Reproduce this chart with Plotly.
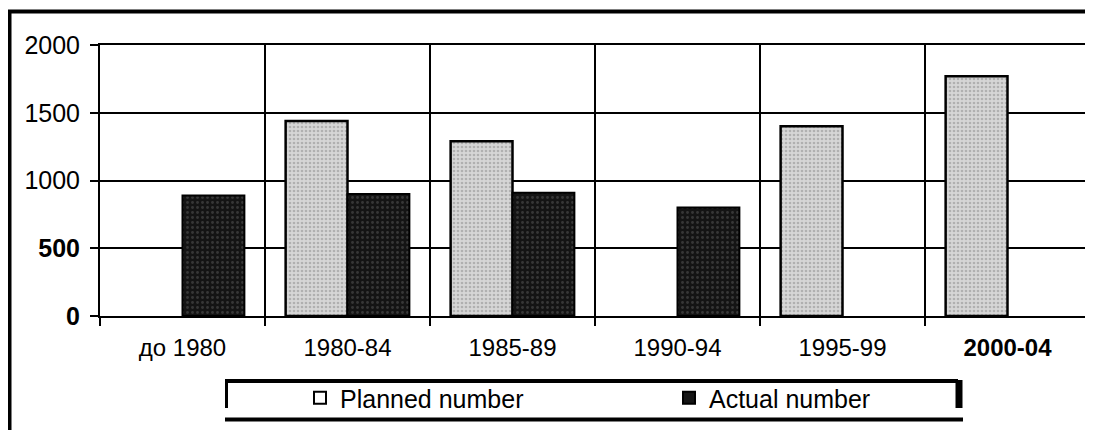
import plotly.graph_objects as go

categories = ["до 1980", "1980-84", "1985-89", "1990-94", "1995-99", "2000-04"]
category_labels = ["до 1980", "1980-84", "1985-89", "1990-94", "1995-99", "<b>2000-04</b>"]
planned = [None, 1440, 1290, None, 1400, 1770]
actual = [890, 900, 910, 800, None, None]
y_ticks = [0, 500, 1000, 1500, 2000]
y_tick_labels = ["<b>0</b>", "<b>500</b>", "1000", "1500", "2000"]

# page body has an 8px default margin, so the figure is laid out in page coords offset by 8
OFF = 8
W, H = 1093 - OFF, 430 - OFF
X0, X1, Y0, Y1 = 100, 1090, 45, 316  # plot area in screenshot coords
L, T = X0 - OFF, Y0 - OFF
R, B = W - (X1 - OFF), H - (Y1 - OFF)
PW, PH = X1 - X0, Y1 - Y0


def px(x):
    return (x - X0) / PW


def py(y):
    return (Y1 - y) / PH


FONT = "Liberation Sans, Arial, sans-serif"

fig = go.Figure()
fig.add_trace(go.Bar(
    name="Planned number", x=categories, y=planned, showlegend=False, legendgroup="p",
    marker=dict(color="#d2d2d2", line=dict(color="black", width=2.5),
                pattern=dict(shape=".", fgcolor="#8a8a8a", bgcolor="#d6d6d6", size=4, solidity=0.35)),
))
fig.add_trace(go.Bar(
    name="Actual number", x=categories, y=actual, showlegend=False, legendgroup="a",
    marker=dict(color="#151515", line=dict(color="black", width=2),
                pattern=dict(shape=".", fgcolor="#5a5a5a", bgcolor="#141414", size=5, solidity=0.25)),
))
# legend-only entries (legend symbols as in the original: hollow / dark)
fig.add_trace(go.Bar(
    name="Planned number", x=[categories[0]], y=[None], legendgroup="p", hoverinfo="skip",
    marker=dict(color="white", line=dict(color="black", width=2)),
))
fig.add_trace(go.Bar(
    name="Actual number", x=[categories[0]], y=[None], legendgroup="a", hoverinfo="skip",
    marker=dict(color="#151515", line=dict(color="black", width=2)),
))

shapes = [
    # outer frame (partly cropped)
    dict(type="rect", xref="paper", yref="paper", x0=px(9.5), x1=px(1200), y0=py(11.5), y1=py(600),
         line=dict(color="black", width=4), fillcolor="rgba(0,0,0,0)", layer="above"),
    # legend box pieces
    dict(type="line", xref="paper", yref="paper", x0=px(225), x1=px(958), y0=py(381), y1=py(381),
         line=dict(color="black", width=4)),
    dict(type="line", xref="paper", yref="paper", x0=px(225), x1=px(963), y0=py(419.5), y1=py(419.5),
         line=dict(color="black", width=4)),
    dict(type="line", xref="paper", yref="paper", x0=px(226.5), x1=px(226.5), y0=py(381), y1=py(408),
         line=dict(color="black", width=3)),
    dict(type="line", xref="paper", yref="paper", x0=px(959), x1=px(959), y0=py(380), y1=py(408),
         line=dict(color="black", width=7)),
]

fig.update_layout(
    width=W, height=H,
    margin=dict(l=L, r=R, t=T, b=B, autoexpand=False),
    paper_bgcolor="white", plot_bgcolor="white",
    barmode="overlay", bargap=0.25, bargroupgap=0,
    font=dict(family=FONT, color="black", size=22),
    shapes=shapes,
    legend=dict(orientation="h", x=px(300), y=py(398), xanchor="left", yanchor="middle",
                entrywidth=324, entrywidthmode="pixels", bgcolor="rgba(0,0,0,0)",
                font=dict(family=FONT, size=25), itemwidth=30, traceorder="normal"),
    showlegend=True,
)
# grouped layout for the two data traces via offsetgroup
fig.data[0].update(offsetgroup="p", offset=0.0 - 0.375, width=0.375)
fig.data[1].update(offsetgroup="a", offset=0.0, width=0.375)
fig.update_xaxes(
    type="category", categoryorder="array", categoryarray=categories,
    tickvals=categories, ticktext=category_labels,
    tickson="boundaries", showgrid=True, gridcolor="black", gridwidth=2,
    showline=True, linecolor="black", linewidth=2, mirror=True,
    ticks="outside", ticklen=8, tickcolor="black", tickwidth=2,
    tickfont=dict(family=FONT, size=24), ticklabelstandoff=9,
)
fig.update_yaxes(
    range=[0, 2000], tickvals=y_ticks, ticktext=y_tick_labels,
    showgrid=True, gridcolor="black", gridwidth=2, zeroline=False,
    showline=True, linecolor="black", linewidth=2, mirror=True,
    ticks="outside", ticklen=8, tickcolor="black", tickwidth=2,
    tickfont=dict(family=FONT, size=25), ticklabelstandoff=5,
)

fig.write_html("out.html")
